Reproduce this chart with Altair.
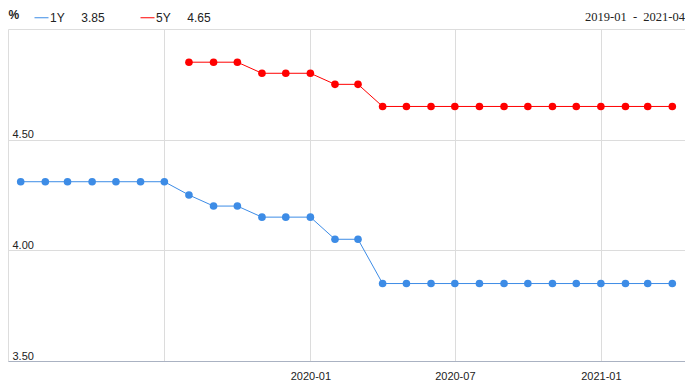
import altair as alt
import pandas as pd

months = pd.date_range("2019-01-01", "2021-04-01", freq="MS").strftime("%Y-%m-%d").tolist()
lpr_1y = [4.31, 4.31, 4.31, 4.31, 4.31, 4.31, 4.31, 4.25, 4.20, 4.20, 4.15, 4.15,
          4.15, 4.05, 4.05, 3.85, 3.85, 3.85, 3.85, 3.85, 3.85, 3.85, 3.85, 3.85,
          3.85, 3.85, 3.85, 3.85]
lpr_5y = [None] * 7 + [4.85, 4.85, 4.85, 4.80, 4.80,
          4.80, 4.75, 4.75, 4.65, 4.65, 4.65, 4.65, 4.65, 4.65, 4.65, 4.65, 4.65,
          4.65, 4.65, 4.65, 4.65]
series_names = ["1Y", "5Y"]
series_colors = ["#3d8ce6", "#ff0000"]
latest = {"1Y": "3.85", "5Y": "4.65"}
period = ["2019-01", "2021-04"]

rows = []
for m, a, b in zip(months, lpr_1y, lpr_5y):
    rows.append({"date": m, "series": "1Y", "rate": a})
    if b is not None:
        rows.append({"date": m, "series": "5Y", "rate": b})
df = pd.DataFrame(rows)

nb = "\u00a0"
label_expr = ("datum.label == '1Y' ? '1Y" + nb * 5 + latest["1Y"] + "' : '5Y" + nb * 5 + latest["5Y"] + "'")

x = alt.X("date:T",
          scale=alt.Scale(domain=["2018-12-16", "2021-04-17"]),
          axis=alt.Axis(values=["2019-07-01", "2020-01-01", "2020-07-01", "2021-01-01"],
                        labelExpr="year(datum.value) == 2019 ? '' : timeFormat(datum.value, '%Y-%m')",
                        title=None, ticks=False, labelPadding=9, labelFont="Liberation Sans",
                        labelFontSize=11, labelColor="#222", domainColor="#aab2c2",
                        gridColor="#dcdcdc", labelAngle=0))
y = alt.Y("rate:Q",
          scale=alt.Scale(domain=[3.5, 5.0], nice=False, zero=False),
          axis=alt.Axis(values=[3.5, 4.0, 4.5], format=".2f", title="%", titleAngle=0,
                        titleX=0, titleY=-8, titleAlign="left", titleFont="Liberation Sans",
                        titleFontSize=12, titleFontWeight="bold", titleColor="#222",
                        ticks=False, domain=False, labelAlign="left", labelPadding=-4,
                        labelBaseline="alphabetic", labelOffset=-2,
                        labelFont="Liberation Sans", labelFontSize=11, labelColor="#222",
                        gridColor="#dcdcdc"))
color = alt.Color("series:N",
                  scale=alt.Scale(domain=series_names, range=series_colors),
                  legend=alt.Legend(orient="none", legendX=26, legendY=-19, direction="horizontal",
                                    title=None, symbolType="stroke", symbolSize=196,
                                    symbolStrokeWidth=1, labelOffset=1, columnPadding=33,
                                    labelExpr=label_expr, labelFont="Liberation Sans",
                                    labelFontSize=12, labelColor="#222"))

base = alt.Chart(df).encode(x=x, y=y, color=color, detail="series:N")
lines = base.mark_line(strokeWidth=1)
points = base.mark_circle(size=58, opacity=1)

title_df = pd.DataFrame({"t": [(nb * 2 + "-" + nb * 2).join(period)]})
title = alt.Chart(title_df).mark_text(
    align="right", baseline="alphabetic", font="Liberation Serif", fontSize=12.5,
    color="#222"
).encode(text="t:N", x=alt.value(677), y=alt.value(-8))

chart = (lines + points + title).properties(
    width=677, height=332,
    autosize=alt.AutoSizeParams(type="none"),
    padding={"left": 0, "top": 21, "right": 0, "bottom": 25},
).configure_view(stroke="#cfcfcf", strokeWidth=1).configure(background="white")

chart.save("out.html", embed_options={"renderer": "svg", "actions": False})
